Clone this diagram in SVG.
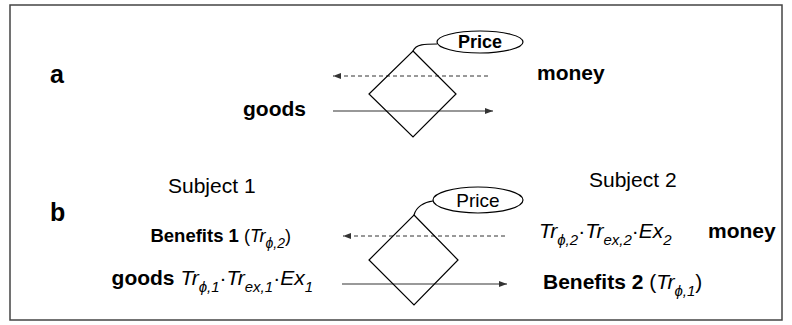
<svg xmlns="http://www.w3.org/2000/svg" width="792" height="325" viewBox="0 0 792 325">
<defs>
<style>
text{font-family:"Liberation Sans",Arial,sans-serif;fill:#000}
.b{font-weight:bold;font-size:21px}
.bs{font-weight:bold;font-size:18.5px}
.lab{font-weight:bold;font-size:25px}
.n{font-size:21px}
.m{font-size:21px}
.ms{font-size:18px}
.i{font-style:italic}
.sub{font-size:15px;font-style:italic}
.subs{font-size:14px;font-style:italic}
.shape{fill:none;stroke:#000;stroke-width:1.2}
.dash{stroke:#333;stroke-width:1;stroke-dasharray:4,3;fill:none}
.solid{stroke:#333;stroke-width:1.2;fill:none}
.solidg{stroke:#777;stroke-width:1.5;fill:none}
</style>
<marker id="ah" viewBox="0 0 8 6" refX="8" refY="3" markerWidth="8" markerHeight="6" markerUnits="userSpaceOnUse" orient="auto">
<path d="M0,0 L8,3 L0,6 Z" fill="#333"/>
</marker>
</defs>
<rect x="10" y="5" width="772" height="315" fill="#fff" stroke="#444" stroke-width="1.5"/>

<g id="connectors">
<line class="dash" x1="488" y1="76" x2="333" y2="76" marker-end="url(#ah)"/>
<line class="solid" x1="333" y1="111" x2="493" y2="111" marker-end="url(#ah)"/>
<path class="shape" d="M413,51 C416,44 425,44 437,44"/>
<line class="dash" x1="505" y1="236" x2="343" y2="236" marker-end="url(#ah)"/>
<line class="solidg" x1="342" y1="284" x2="507" y2="284" marker-end="url(#ah)"/>
<path class="shape" d="M414,215 C416,207 424,202 433,201"/>
</g>

<g id="panel-a">
<text class="lab" x="50" y="83">a</text>
<g id="diamond-a"><polygon class="shape" points="413,51 456,94 413,137 369,94"/></g>
<g id="price-a"><ellipse class="shape" cx="480" cy="42" rx="43" ry="11"/><text x="480" y="48" text-anchor="middle" font-weight="bold" font-size="18">Price</text></g>
<g id="goods-a"><text class="b" x="243" y="116">goods</text></g>
<g id="money-a"><text class="b" x="537" y="80">money</text></g>
</g>

<g id="panel-b">
<text class="lab" x="50" y="221">b</text>
<g id="subject1"><text class="n" x="168" y="193">Subject 1</text></g>
<g id="subject2"><text class="n" x="589" y="187">Subject 2</text></g>
<g id="diamond-b"><polygon class="shape" points="414,215 458,260 414,305 369,260"/></g>
<g id="price-b"><ellipse class="shape" cx="478" cy="200" rx="45" ry="13"/><text x="478" y="207" text-anchor="middle" font-size="19">Price</text></g>
<g id="benefits1"><text x="291" y="242" text-anchor="end"><tspan class="bs">Benefits 1</tspan><tspan class="ms"> (</tspan><tspan class="ms i">Tr</tspan><tspan class="subs" dy="6">ϕ,2</tspan><tspan class="ms" dy="-6">)</tspan></text></g>
<g id="goods-b"><text x="313" y="285" text-anchor="end"><tspan class="b">goods </tspan><tspan class="m i">Tr</tspan><tspan class="sub" dy="7">ϕ,1</tspan><tspan class="m" dy="-7">·</tspan><tspan class="m i">Tr</tspan><tspan class="sub" dy="7">ex,1</tspan><tspan class="m" dy="-7">·</tspan><tspan class="m i">Ex</tspan><tspan class="sub" dy="7" font-style="normal">1</tspan></text></g>
<g id="tr2"><text x="539" y="238"><tspan class="m i">Tr</tspan><tspan class="sub" dy="7">ϕ,2</tspan><tspan class="m" dy="-7">·</tspan><tspan class="m i">Tr</tspan><tspan class="sub" dy="7">ex,2</tspan><tspan class="m" dy="-7">·</tspan><tspan class="m i">Ex</tspan><tspan class="sub" dy="7" font-style="normal">2</tspan></text></g>
<g id="money-b"><text class="b" x="708" y="238">money</text></g>
<g id="benefits2"><text x="543" y="289"><tspan class="b">Benefits 2</tspan><tspan class="m"> (</tspan><tspan class="m i">Tr</tspan><tspan class="sub" dy="7">ϕ,1</tspan><tspan class="m" dy="-7">)</tspan></text></g>
</g>
</svg>
